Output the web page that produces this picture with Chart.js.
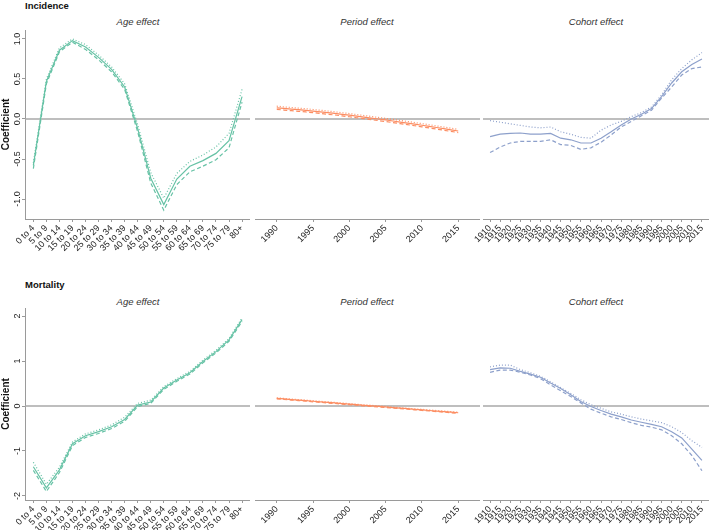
<!DOCTYPE html>
<html lang="en">
<head>
<meta charset="UTF-8">
<title>Age, period and cohort effects</title>
<script src="https://cdn.jsdelivr.net/npm/chart.js@4.4.1/dist/chart.umd.min.js"></script>
<style>
  * { margin: 0; padding: 0; box-sizing: border-box; }
  body {
    width: 709px; height: 530px; position: relative; overflow: hidden;
    background: #fff; font-family: 'Liberation Sans', Arial, sans-serif;
  }
  canvas { position: absolute; }
  .row-title { position: absolute; font-weight: bold; font-size: 9.5px; color: #111; }
  .panel-title {
    position: absolute; font-style: italic; font-size: 9.5px; color: #333;
    transform: translateX(-50%); white-space: nowrap;
  }
</style>
</head>
<body>
<div class="row-title" style="left:25px;top:0px;">Incidence</div>
<div class="panel-title" style="left:138px;top:16px;">Age effect</div>
<div class="panel-title" style="left:367px;top:16px;">Period effect</div>
<div class="panel-title" style="left:596px;top:16px;">Cohort effect</div>

<div class="row-title" style="left:25px;top:279px;">Mortality</div>
<div class="panel-title" style="left:138px;top:296px;">Age effect</div>
<div class="panel-title" style="left:367px;top:296px;">Period effect</div>
<div class="panel-title" style="left:596px;top:296px;">Cohort effect</div>

<canvas id="incAge"></canvas>
<canvas id="incPeriod"></canvas>
<canvas id="incCohort"></canvas>
<canvas id="mortAge"></canvas>
<canvas id="mortPeriod"></canvas>
<canvas id="mortCohort"></canvas>

<script>
// ---- data ----
const ageLabels = ['0 to 4', '5 to 9', '10 to 14', '15 to 19', '20 to 24', '25 to 29', '30 to 34',
  '35 to 39', '40 to 44', '45 to 49', '50 to 54', '55 to 59', '60 to 64', '65 to 69',
  '70 to 74', '75 to 79', '80+'];
const periodYears = [1990, 1991, 1992, 1993, 1994, 1995, 1996, 1997, 1998, 1999, 2000, 2001, 2002,
  2003, 2004, 2005, 2006, 2007, 2008, 2009, 2010, 2011, 2012, 2013, 2014, 2015];
const cohortYears = [1910, 1915, 1920, 1925, 1930, 1935, 1940, 1945, 1950, 1955, 1960,
  1965, 1970, 1975, 1980, 1985, 1990, 1995, 2000, 2005, 2010, 2015];

// Incidence
const incAgeEst = [-0.58, 0.47, 0.86, 0.98, 0.90, 0.77, 0.62, 0.40, -0.12, -0.74, -1.07, -0.75, -0.59, -0.52, -0.43, -0.27, 0.28];
const incAgeHi  = [-0.55, 0.50, 0.89, 1.00, 0.93, 0.80, 0.65, 0.44, -0.07, -0.67, -0.99, -0.68, -0.53, -0.45, -0.35, -0.18, 0.37];
const incAgeLo  = [-0.62, 0.44, 0.84, 0.96, 0.87, 0.74, 0.59, 0.37, -0.16, -0.80, -1.14, -0.82, -0.66, -0.59, -0.51, -0.36, 0.21];

const incPerEst = [0.140, 0.132, 0.124, 0.116, 0.108, 0.099, 0.090, 0.080, 0.070, 0.059, 0.048, 0.036, 0.024,
  0.012, 0.000, -0.012, -0.025, -0.038, -0.051, -0.064, -0.078, -0.092, -0.106, -0.120, -0.135, -0.150];
const incPerHi  = [0.160, 0.152, 0.144, 0.136, 0.128, 0.119, 0.110, 0.100, 0.090, 0.079, 0.068, 0.056, 0.044,
  0.032, 0.020, 0.008, -0.005, -0.018, -0.031, -0.044, -0.058, -0.072, -0.086, -0.100, -0.115, -0.130];
const incPerLo  = [0.120, 0.112, 0.104, 0.096, 0.088, 0.079, 0.070, 0.060, 0.050, 0.039, 0.028, 0.016, 0.004,
  -0.008, -0.020, -0.032, -0.045, -0.058, -0.071, -0.084, -0.098, -0.112, -0.126, -0.140, -0.155, -0.170];

const incCohEst = [-0.22, -0.19, -0.18, -0.175, -0.19, -0.19, -0.18, -0.24, -0.26, -0.30, -0.30,
  -0.24, -0.16, -0.075, 0.00, 0.06, 0.13, 0.28, 0.45, 0.59, 0.68, 0.75];
const incCohHi  = [-0.02, -0.04, -0.06, -0.08, -0.10, -0.11, -0.10, -0.16, -0.19, -0.23, -0.24,
  -0.14, -0.075, -0.03, 0.03, 0.08, 0.15, 0.30, 0.49, 0.63, 0.74, 0.83];
const incCohLo  = [-0.42, -0.35, -0.30, -0.28, -0.28, -0.28, -0.26, -0.32, -0.33, -0.38, -0.36,
  -0.29, -0.20, -0.10, -0.03, 0.04, 0.11, 0.26, 0.40, 0.55, 0.63, 0.65];

// Mortality
const mortAgeEst = [-1.35, -1.82, -1.42, -0.84, -0.66, -0.57, -0.46, -0.30, 0.02, 0.09, 0.40, 0.58, 0.74, 0.99, 1.21, 1.47, 1.92];
const mortAgeHi  = [-1.25, -1.74, -1.36, -0.80, -0.62, -0.53, -0.42, -0.25, 0.06, 0.13, 0.43, 0.61, 0.77, 1.02, 1.24, 1.50, 1.96];
const mortAgeLo  = [-1.43, -1.90, -1.48, -0.88, -0.70, -0.61, -0.50, -0.34, -0.01, 0.06, 0.37, 0.55, 0.71, 0.96, 1.18, 1.44, 1.88];

const mortPerEst = [0.170, 0.157, 0.144, 0.132, 0.119, 0.106, 0.093, 0.080, 0.068, 0.055, 0.042, 0.029, 0.016,
  0.004, -0.009, -0.022, -0.035, -0.048, -0.060, -0.073, -0.086, -0.099, -0.112, -0.124, -0.137, -0.150];
const mortPerHi  = [0.182, 0.169, 0.156, 0.144, 0.131, 0.118, 0.105, 0.092, 0.080, 0.067, 0.054, 0.041, 0.028,
  0.016, 0.003, -0.010, -0.023, -0.036, -0.048, -0.061, -0.074, -0.087, -0.100, -0.112, -0.125, -0.138];
const mortPerLo  = [0.158, 0.145, 0.132, 0.120, 0.107, 0.094, 0.081, 0.068, 0.056, 0.043, 0.030, 0.017, 0.004,
  -0.008, -0.021, -0.034, -0.047, -0.060, -0.072, -0.085, -0.098, -0.111, -0.124, -0.136, -0.149, -0.162];

const mortCohEst = [0.81, 0.85, 0.84, 0.77, 0.71, 0.64, 0.51, 0.39, 0.25, 0.10, -0.01,
  -0.10, -0.18, -0.24, -0.31, -0.36, -0.41, -0.46, -0.57, -0.71, -0.96, -1.21];
const mortCohHi  = [0.87, 0.91, 0.91, 0.81, 0.74, 0.66, 0.54, 0.41, 0.28, 0.14, 0.03,
  -0.05, -0.13, -0.18, -0.24, -0.29, -0.33, -0.37, -0.46, -0.59, -0.77, -0.92];
const mortCohLo  = [0.75, 0.80, 0.80, 0.75, 0.69, 0.61, 0.47, 0.34, 0.21, 0.07, -0.07,
  -0.16, -0.24, -0.30, -0.37, -0.43, -0.47, -0.53, -0.66, -0.84, -1.10, -1.44];

// ---- layout ----
const GREEN = '#66c2a5', ORANGE = '#fc8d62', BLUE = '#8da0cb';
const AXIS = '#9a9a9a', TEXT = '#222';
const ROWS = {
  inc:  { top: 30,  bottom: 219, below: 48, yMin: -1.25, yMax: 1.1125, yStep: 0.5, fmt: v => v.toFixed(1) },
  mort: { top: 308, bottom: 500, below: 30, yMin: -2.09, yMax: 2.18,   yStep: 1,   fmt: v => String(v) }
};
const COLS = {
  age:    { left: 25,  right: 250, padL: 25, xMin: -0.64,  xMax: 16.61,  xStep: 1 },
  period: { left: 255, right: 480, padL: 30, xMin: 1987,   xMax: 2018,   xStep: 5 },
  cohort: { left: 483, right: 709, padL: 30, xMin: 1906.5, xMax: 2018.5, xStep: 5 }
};

Chart.defaults.font.family = "'Liberation Sans', Arial, sans-serif";
Chart.defaults.color = TEXT;

// horizontal reference line at 0
const zeroLine = {
  id: 'zeroLine',
  beforeDatasetsDraw(chart) {
    const { ctx, chartArea, scales } = chart;
    const y = scales.y.getPixelForValue(0);
    ctx.save();
    ctx.strokeStyle = '#a8a8a8';
    ctx.lineWidth = 1.5;
    ctx.beginPath();
    ctx.moveTo(chartArea.left, y);
    ctx.lineTo(chartArea.right, y);
    ctx.stroke();
    ctx.restore();
  }
};

// y tick labels rotated like base R (las = 0)
const yLabels = {
  id: 'yLabels',
  afterDraw(chart, args, opts) {
    if (!opts.show) return;
    const { ctx, scales } = chart;
    const ys = scales.y;
    ctx.save();
    ctx.fillStyle = TEXT;
    ctx.font = "9px 'Liberation Sans', Arial, sans-serif";
    ctx.textAlign = 'center';
    ctx.textBaseline = 'middle';
    ys.ticks.forEach(t => {
      const y = ys.getPixelForValue(t.value);
      ctx.save();
      ctx.translate(18, y);
      ctx.rotate(-Math.PI / 2);
      ctx.fillText(opts.fmt(t.value), 0, 0);
      ctx.restore();
    });
    ctx.restore();
  }
};

function line(xs, ys, color, dash) {
  return {
    data: xs.map((x, i) => ({ x: x, y: ys[i] })),
    borderColor: color,
    borderWidth: 1.2,
    borderDash: dash,
    pointRadius: 0,
    tension: 0,
    fill: false
  };
}

function makePanel(id, rowKey, colKey, xs, est, lo, hi, color, labelFn) {
  const row = ROWS[rowKey], col = COLS[colKey];
  const padT = 3;
  const w = col.right - col.left + col.padL;
  const h = row.bottom - row.top + padT + row.below;
  const cv = document.getElementById(id);
  cv.width = w; cv.height = h;
  cv.style.left = (col.left - col.padL) + 'px';
  cv.style.top = (row.top - padT) + 'px';
  cv.style.width = w + 'px';
  cv.style.height = h + 'px';
  const isAge = colKey === 'age';

  new Chart(cv, {
    type: 'line',
    data: {
      datasets: [
        line(xs, lo, color, [4, 2.5]),
        line(xs, hi, color, [1, 2]),
        line(xs, est, color, [])
      ]
    },
    options: {
      responsive: false,
      animation: false,
      devicePixelRatio: 1,
      layout: { padding: { left: isAge ? 0 : col.padL, top: padT, right: 0, bottom: 0 } },
      plugins: {
        legend: { display: false },
        tooltip: { enabled: false },
        yLabels: { show: isAge, fmt: row.fmt }
      },
      scales: {
        x: {
          type: 'linear',
          min: col.xMin, max: col.xMax,
          border: { display: true, color: AXIS, width: 1 },
          grid: { display: true, drawOnChartArea: false, drawTicks: true, tickLength: 3, color: AXIS },
          ticks: {
            stepSize: col.xStep, includeBounds: false, autoSkip: false,
            minRotation: 45, maxRotation: 45, padding: 1,
            font: { size: 9 }, color: TEXT,
            callback: labelFn
          },
          afterFit(s) { s.height = row.below; s.paddingLeft = 0; s.paddingRight = 0; }
        },
        y: {
          display: isAge,
          min: row.yMin, max: row.yMax,
          border: { display: true, color: AXIS, width: 1 },
          grid: { display: true, drawOnChartArea: false, drawTicks: true, tickLength: 3, color: AXIS },
          ticks: { stepSize: row.yStep, includeBounds: false, display: false },
          title: {
            display: true, text: 'Coefficient', color: '#111',
            font: { size: 10, weight: 'bold' }, padding: 0
          },
          afterFit(s) { s.width = isAge ? col.padL : 0; s.paddingTop = 0; s.paddingBottom = 0; }
        }
      }
    },
    plugins: [zeroLine, yLabels]
  });
}

const ageIdx = ageLabels.map((_, i) => i);
const ageTick = v => ageLabels[v];
const yearTick = v => String(v);

makePanel('incAge', 'inc', 'age', ageIdx, incAgeEst, incAgeLo, incAgeHi, GREEN, ageTick);
makePanel('incPeriod', 'inc', 'period', periodYears, incPerEst, incPerLo, incPerHi, ORANGE, yearTick);
makePanel('incCohort', 'inc', 'cohort', cohortYears, incCohEst, incCohLo, incCohHi, BLUE, yearTick);
makePanel('mortAge', 'mort', 'age', ageIdx, mortAgeEst, mortAgeLo, mortAgeHi, GREEN, ageTick);
makePanel('mortPeriod', 'mort', 'period', periodYears, mortPerEst, mortPerLo, mortPerHi, ORANGE, yearTick);
makePanel('mortCohort', 'mort', 'cohort', cohortYears, mortCohEst, mortCohLo, mortCohHi, BLUE, yearTick);
</script>
</body>
</html>
